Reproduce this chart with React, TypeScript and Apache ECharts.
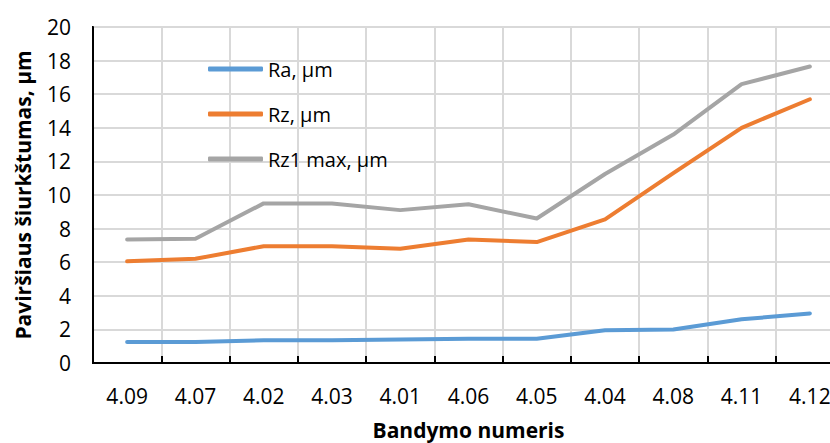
import React, { useEffect, useRef } from "react";
import * as echarts from "echarts";

const categories = ["4.09", "4.07", "4.02", "4.03", "4.01", "4.06", "4.05", "4.04", "4.08", "4.11", "4.12"];
const raValues = [1.25, 1.25, 1.35, 1.35, 1.4, 1.45, 1.45, 1.95, 2.0, 2.6, 2.95];
const rzValues = [6.05, 6.2, 6.95, 6.95, 6.8, 7.35, 7.2, 8.55, 11.3, 14.0, 15.7];
const rz1Values = [7.35, 7.4, 9.5, 9.5, 9.1, 9.45, 8.6, 11.25, 13.6, 16.6, 17.65];
const seriesNames = ["Ra, µm", "Rz, µm", "Rz1 max, µm"];
const seriesColors = ["#5B9BD5", "#ED7D31", "#A5A5A5"];

const FONT = "'Open Sans', 'Noto Sans', sans-serif";

export default function App() {
  const ref = useRef<HTMLDivElement>(null);
  useEffect(() => {
    if (!ref.current) return;
    const chart = echarts.init(ref.current, null, { renderer: "svg" });
    const data = [raValues, rzValues, rz1Values];
    chart.setOption({
      animation: false,
      backgroundColor: "#fff",
      textStyle: { fontFamily: FONT },
      grid: {
        left: 93,
        top: 27,
        width: 751,
        height: 336,
        show: true,
        borderColor: "#000",
        borderWidth: 2,
        containLabel: false,
        outerBoundsMode: "none",
      },
      legend: {
        orient: "vertical",
        left: 208,
        top: 58,
        padding: 0,
        icon: "roundRect",
        itemWidth: 55,
        itemHeight: 5,
        itemGap: 23,
        textStyle: { fontSize: 20, lineHeight: 22, color: "#000", fontFamily: FONT },
        data: seriesNames.map((name, i) => ({
          name,
          itemStyle: { color: seriesColors[i] },
        })),
      },
      xAxis: {
        type: "category",
        data: categories,
        boundaryGap: true,
        name: "Bandymo numeris",
        nameLocation: "middle",
        nameGap: 56,
        nameTextStyle: { fontSize: 21, fontWeight: "bold", color: "#000", fontFamily: FONT },
        axisLine: { show: true, lineStyle: { color: "#000", width: 2 } },
        axisTick: { show: true, inside: true, length: 7, lineStyle: { color: "#000", width: 2 } },
        axisLabel: { fontSize: 21, color: "#000", margin: 22, fontFamily: FONT },
        splitLine: { show: true, lineStyle: { color: "#d9d9d9", width: 2 } },
      },
      yAxis: {
        type: "value",
        min: 0,
        max: 20,
        interval: 2,
        name: "Paviršiaus šiurkštumas, µm",
        nameLocation: "middle",
        nameGap: 60,
        nameRotate: 90,
        nameTextStyle: { fontSize: 21, fontWeight: "bold", color: "#000", fontFamily: FONT },
        axisLine: { show: true, lineStyle: { color: "#000", width: 2 } },
        axisTick: { show: false },
        axisLabel: { fontSize: 21, color: "#000", margin: 22, fontFamily: FONT },
        splitLine: { show: true, lineStyle: { color: "#d9d9d9", width: 2 } },
      },
      series: seriesNames.map((name, i) => ({
        name,
        type: "line",
        data: data[i],
        symbol: "none",
        smooth: false,
        color: seriesColors[i],
        lineStyle: { color: seriesColors[i], width: 4, cap: "round", join: "round" },
      })),
    });
    return () => chart.dispose();
  }, []);
  return (
    <div
      ref={ref}
      style={{ position: "fixed", left: 0, top: 0, width: 830, height: 443 }}
    />
  );
}
